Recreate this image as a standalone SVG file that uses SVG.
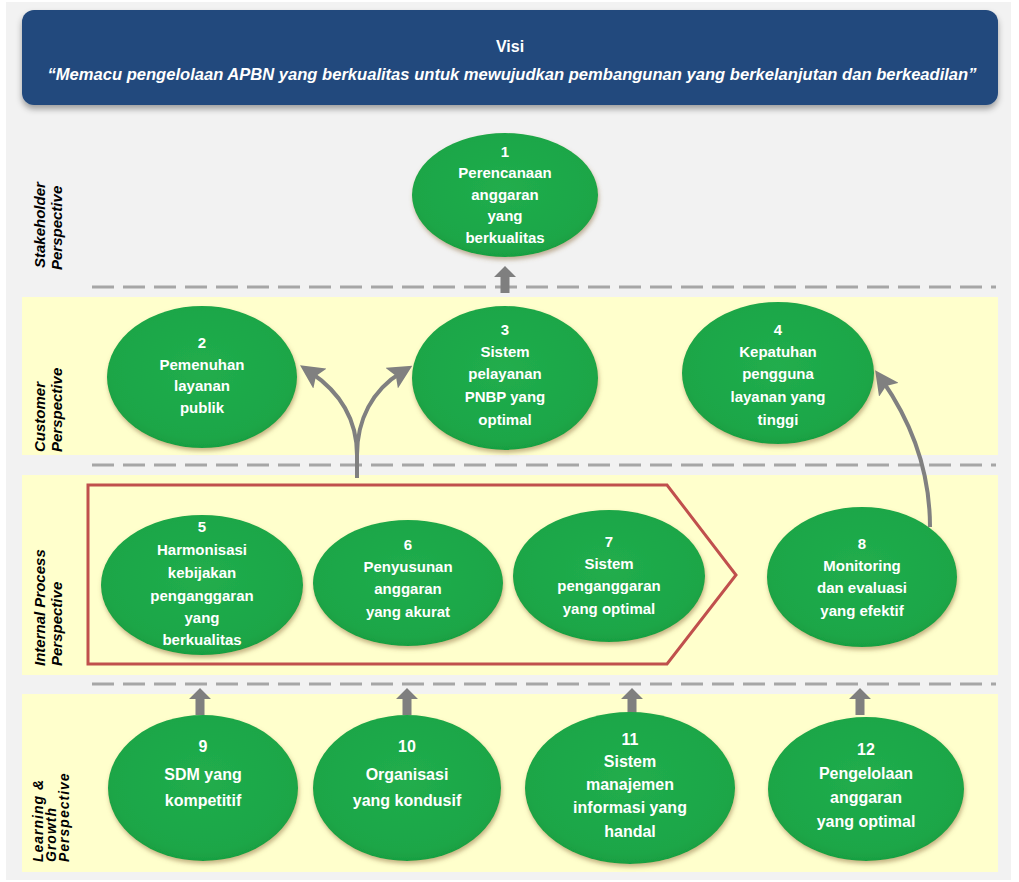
<svg xmlns="http://www.w3.org/2000/svg" width="1019" height="882" viewBox="0 0 1019 882">
<defs>
<style>
.band{fill:#ffffcc}
.dash{stroke:#a6a6a6;stroke-width:3;stroke-dasharray:22 9;fill:none}
.node{fill:url(#g);filter:url(#sh)}
.nt{font-family:"Liberation Sans",Arial,sans-serif;font-weight:bold;font-size:15px;fill:#fff;text-anchor:middle}
.nb{font-family:"Liberation Sans",Arial,sans-serif;font-weight:bold;font-size:16px;fill:#fff;text-anchor:middle}
.lab{font-family:"Liberation Sans",Arial,sans-serif;font-weight:bold;font-style:italic;font-size:15px;fill:#000}
.labs{font-family:"Liberation Sans",Arial,sans-serif;font-weight:bold;font-style:italic;font-size:14px;letter-spacing:1px;fill:#000}
.blk{fill:#7f7f7f}
.cur{stroke:#808080;stroke-width:4;fill:none;marker-end:url(#ah)}
</style>
<radialGradient id="g" cx="50%" cy="45%" r="60%">
<stop offset="0" stop-color="#21ad4d"/>
<stop offset="0.8" stop-color="#1ca647"/>
<stop offset="1" stop-color="#169a3e"/>
</radialGradient>
<filter id="sh" x="-20%" y="-20%" width="140%" height="150%">
<feDropShadow dx="1" dy="3" stdDeviation="2" flood-color="#8a6a3a" flood-opacity="0.5"/>
</filter>
<filter id="hs" x="-5%" y="-20%" width="110%" height="150%">
<feDropShadow dx="0" dy="4" stdDeviation="3" flood-color="#000" flood-opacity="0.35"/>
</filter>
<marker id="ah" markerWidth="6" markerHeight="6" refX="3" refY="3" orient="auto" markerUnits="strokeWidth">
<path d="M0,0 L6,3 L0,6 L1.2,3 Z" fill="#808080"/>
</marker>
<path id="ua" d="M0,0 L11,11 L4.5,11 L4.5,27 L-4.5,27 L-4.5,11 L-11,11 Z"/>
</defs>

<rect x="6" y="2" width="1005" height="878" fill="#f2f2f2"/>

<g id="bands">
<rect class="band" x="22" y="297" width="976" height="158"/>
<rect class="band" x="22" y="475" width="976" height="200"/>
<rect class="band" x="22" y="694" width="976" height="178"/>
<line class="dash" x1="92" y1="287" x2="996" y2="287"/>
<line class="dash" x1="92" y1="465" x2="996" y2="465"/>
<line class="dash" x1="92" y1="684" x2="996" y2="684"/>
</g>

<g id="header">
<rect x="22" y="10" width="976" height="95" rx="12" fill="#234a7d" filter="url(#hs)"/>
<text x="510" y="52" font-family="'Liberation Sans',Arial,sans-serif" font-weight="bold" font-size="16" fill="#fff" text-anchor="middle">Visi</text>
<text x="512" y="80" font-family="'Liberation Sans',Arial,sans-serif" font-style="italic" font-weight="bold" font-size="17" fill="#fff" text-anchor="middle" textLength="929" lengthAdjust="spacingAndGlyphs">“Memacu pengelolaan APBN yang berkualitas untuk mewujudkan pembangunan yang berkelanjutan dan berkeadilan”</text>
</g>

<g id="labels">
<text class="lab" transform="translate(45,268) rotate(-90)">Stakeholder</text>
<text class="lab" transform="translate(62,270) rotate(-90)">Perspective</text>
<text class="lab" transform="translate(45,452) rotate(-90)">Customer</text>
<text class="lab" transform="translate(62,452) rotate(-90)">Perspective</text>
<text class="lab" transform="translate(45,666) rotate(-90)">Internal Process</text>
<text class="lab" transform="translate(62,666) rotate(-90)">Perspective</text>
<text class="labs" transform="translate(43,862) rotate(-90)">Learning &amp;</text>
<text class="labs" transform="translate(56,862) rotate(-90)">Growth</text>
<text class="labs" transform="translate(69,862) rotate(-90)">Perspective</text>
</g>

<g id="chevron">
<path d="M88,485 L667,485 L736,575 L667,664 L88,664 Z" fill="none" stroke="#c0504d" stroke-width="3"/>
</g>

<g id="connectors">
<use href="#ua" class="blk" x="505" y="266"/>
<use href="#ua" class="blk" x="200" y="688"/>
<use href="#ua" class="blk" x="407" y="688"/>
<use href="#ua" class="blk" x="632" y="688"/>
<use href="#ua" class="blk" x="860" y="688"/>
<path class="cur" d="M357,478 L357,455 C357,420 340,392 310,372"/>
<path class="cur" d="M357,455 C357,420 372,390 402,372"/>
<path class="cur" d="M930,527 C930,470 910,420 882,380"/>
</g>

<g id="n1"><ellipse class="node" cx="505" cy="195" rx="93" ry="62"/>
<text class="nt" x="505" y="157">1</text><text class="nt" x="505" y="178">Perencanaan</text><text class="nt" x="505" y="200">anggaran</text><text class="nt" x="505" y="221">yang</text><text class="nt" x="505" y="243">berkualitas</text></g>

<g id="n2"><ellipse class="node" cx="202" cy="377" rx="95" ry="71"/>
<text class="nt" x="202" y="348">2</text><text class="nt" x="202" y="370">Pemenuhan</text><text class="nt" x="202" y="391">layanan</text><text class="nt" x="202" y="413">publik</text></g>

<g id="n3"><ellipse class="node" cx="505" cy="378" rx="93" ry="72"/>
<text class="nt" x="505" y="335">3</text><text class="nt" x="505" y="357">Sistem</text><text class="nt" x="505" y="379">pelayanan</text><text class="nt" x="505" y="402">PNBP yang</text><text class="nt" x="505" y="425">optimal</text></g>

<g id="n4"><ellipse class="node" cx="778" cy="373" rx="96" ry="71"/>
<text class="nt" x="778" y="335">4</text><text class="nt" x="778" y="357">Kepatuhan</text><text class="nt" x="778" y="379">pengguna</text><text class="nt" x="778" y="402">layanan yang</text><text class="nt" x="778" y="425">tinggi</text></g>

<g id="n5"><ellipse class="node" cx="202" cy="585" rx="101" ry="70"/>
<text class="nt" x="202" y="532">5</text><text class="nt" x="202" y="555">Harmonisasi</text><text class="nt" x="202" y="578">kebijakan</text><text class="nt" x="202" y="601">penganggaran</text><text class="nt" x="202" y="623">yang</text><text class="nt" x="202" y="645">berkualitas</text></g>

<g id="n6"><ellipse class="node" cx="408" cy="583" rx="95" ry="63"/>
<text class="nt" x="408" y="550">6</text><text class="nt" x="408" y="572">Penyusunan</text><text class="nt" x="408" y="594">anggaran</text><text class="nt" x="408" y="617">yang akurat</text></g>

<g id="n7"><ellipse class="node" cx="609" cy="576" rx="96" ry="66"/>
<text class="nt" x="609" y="547">7</text><text class="nt" x="609" y="569">Sistem</text><text class="nt" x="609" y="591">penganggaran</text><text class="nt" x="609" y="614">yang optimal</text></g>

<g id="n8"><ellipse class="node" cx="862" cy="577" rx="95" ry="70"/>
<text class="nt" x="862" y="549">8</text><text class="nt" x="862" y="571">Monitoring</text><text class="nt" x="862" y="593">dan evaluasi</text><text class="nt" x="862" y="616">yang efektif</text></g>

<g id="n9"><ellipse class="node" cx="203" cy="788" rx="95" ry="73"/>
<text class="nb" x="203" y="752">9</text><text class="nb" x="203" y="780">SDM yang</text><text class="nb" x="203" y="806">kompetitif</text></g>

<g id="n10"><ellipse class="node" cx="407" cy="788" rx="94" ry="73"/>
<text class="nb" x="407" y="752">10</text><text class="nb" x="407" y="780">Organisasi</text><text class="nb" x="407" y="806">yang kondusif</text></g>

<g id="n11"><ellipse class="node" cx="630" cy="788" rx="105" ry="76"/>
<text class="nb" x="630" y="745">11</text><text class="nb" x="630" y="767">Sistem</text><text class="nb" x="630" y="790">manajemen</text><text class="nb" x="630" y="813">informasi yang</text><text class="nb" x="630" y="837">handal</text></g>

<g id="n12"><ellipse class="node" cx="866" cy="789" rx="98" ry="72"/>
<text class="nb" x="866" y="755">12</text><text class="nb" x="866" y="779">Pengelolaan</text><text class="nb" x="866" y="803">anggaran</text><text class="nb" x="866" y="827">yang optimal</text></g>
</svg>
